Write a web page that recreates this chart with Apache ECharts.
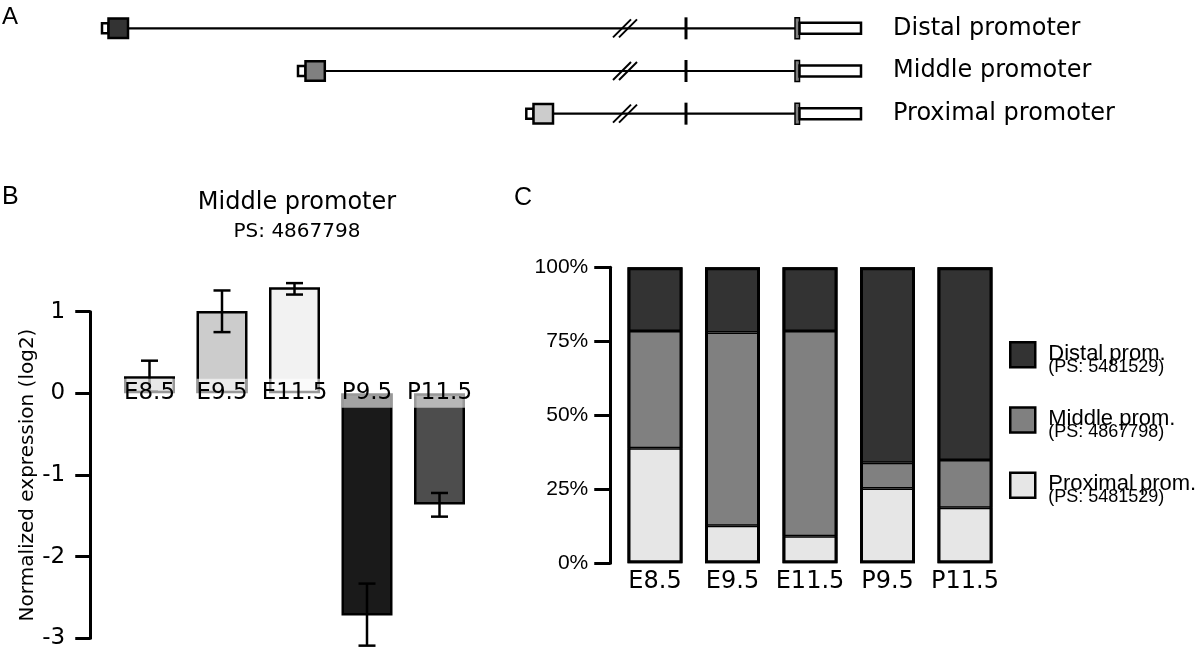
<!DOCTYPE html>
<html>
<head>
<meta charset="utf-8">
<script src="https://cdn.jsdelivr.net/npm/echarts@6/dist/echarts.min.js"></script>
<style>html,body{margin:0;padding:0;background:#fff}#c{width:1200px;height:654px}</style>
</head>
<body>
<div id="c"></div>
<script>
// ---- Panel A: gene structure (schematic positions) ----
const geneRows = ['Distal promoter', 'Middle promoter', 'Proximal promoter'];
const exon1Start = [102, 298, 526.3];
const exon1Split = [108.5, 305.5, 533.5];
const exon1End = [128, 324.8, 553];
const exon1Colors = ['#333333', '#808080', '#cccccc'];
const breakPos = [625, 625, 625];
const exon2Pos = [686, 686, 686];
const exon3Start = [795, 795, 795];
const exon3Split = [799.5, 799.5, 799.5];
const utrEnd = [861, 861, 861];

// ---- Panel B: Middle promoter expression ----
const stagesB = ['E8.5', 'E9.5', 'E11.5', 'P9.5', 'P11.5'];
const exprValues = [0.21, 1.01, 1.30, -2.72, -1.36];
const exprLow = [0.02, 0.75, 1.21, -3.09, -1.51];
const exprHigh = [0.40, 1.26, 1.35, -2.33, -1.22];
const exprColors = ['#c4c4c4', '#cccccc', '#f2f2f2', '#1a1a1a', '#4d4d4d'];

// ---- Panel C: promoter usage (%) ----
const stagesC = ['E8.5', 'E9.5', 'E11.5', 'P9.5', 'P11.5'];
const proximalPct = [38.9, 12.7, 9.1, 25.3, 18.8];
const middlePct = [39.6, 65.3, 69.4, 8.7, 16.1];
const distalPct = [21.5, 22.0, 21.5, 66.0, 65.1];
const totalPct = [100, 100, 100, 100, 100];
const seriesNamesC = ['Distal prom.', 'Middle prom.', 'Proximal prom.'];
const seriesPS = ['5481529', '4867798', '5481529'];
const seriesColorsC = ['#333333', '#808080', '#e6e6e6'];

const WIDE = 'DejaVu Sans';
const ARIAL = 'Liberation Sans';

const chart = echarts.init(document.getElementById('c'), null, {renderer: 'canvas'});

const geneData = geneRows.map((r, i) => [i, exon1Start[i], exon1Split[i], exon1End[i], breakPos[i], exon2Pos[i], exon3Start[i], exon3Split[i], utrEnd[i]]);

function renderGene(params, api) {
  const row = api.value(0);
  const X = v => api.coord([v, row])[0];
  const y = api.coord([0, row])[1];
  const color = exon1Colors[params.dataIndex];
  const s = X(api.value(1)), sp = X(api.value(2)), e = X(api.value(3));
  const b = X(api.value(4)), t = X(api.value(5));
  const x3s = X(api.value(6)), x3e = X(api.value(7)), u = X(api.value(8));
  return {
    type: 'group',
    children: [
      {type: 'line', shape: {x1: e, y1: y, x2: x3s, y2: y}, style: {stroke: '#000', lineWidth: 2.2}},
      {type: 'line', shape: {x1: b - 12, y1: y + 9, x2: b + 6, y2: y - 9}, style: {stroke: '#000', lineWidth: 2}},
      {type: 'line', shape: {x1: b - 6, y1: y + 9, x2: b + 12, y2: y - 9}, style: {stroke: '#000', lineWidth: 2}},
      {type: 'rect', shape: {x: t - 1.5, y: y - 11, width: 3, height: 22}, style: {fill: '#000'}},
      {type: 'rect', shape: {x: x3s, y: y - 10.5, width: x3e - x3s, height: 21}, style: {fill: '#808080', stroke: '#000', lineWidth: 1.5}},
      {type: 'rect', shape: {x: x3e, y: y - 5.5, width: u - x3e, height: 11}, style: {fill: '#fff', stroke: '#000', lineWidth: 2.5}},
      {type: 'rect', shape: {x: s, y: y - 5, width: sp - s, height: 10}, style: {fill: '#fff', stroke: '#000', lineWidth: 2.5}},
      {type: 'rect', shape: {x: sp, y: y - 9.75, width: e - sp, height: 19.5}, style: {fill: color, stroke: '#000', lineWidth: 2.5}}
    ]
  };
}

const errData = exprLow.map((l, i) => [i, l, exprHigh[i]]);
function renderErr(params, api) {
  const i = api.value(0);
  const x = api.coord([i, 0])[0];
  const yl = api.coord([i, api.value(1)])[1];
  const yh = api.coord([i, api.value(2)])[1];
  const st = {stroke: '#000', lineWidth: 2.5};
  return {
    type: 'group',
    children: [
      {type: 'line', shape: {x1: x, y1: yl, x2: x, y2: yh}, style: st},
      {type: 'line', shape: {x1: x - 8.5, y1: yl, x2: x + 8.5, y2: yl}, style: st},
      {type: 'line', shape: {x1: x - 8.5, y1: yh, x2: x + 8.5, y2: yh}, style: st}
    ]
  };
}

const pctArrays = [distalPct, middlePct, proximalPct];
const stackOrder = [2, 1, 0]; // proximal bottom, then middle, distal top

// B grid: y from -3 (bottom) to 1 (top); x-axis labels sit on the zero line
const gridB = {left: 113.25, width: 362.5, top: 311.7, height: 326.6};
const yMinB = -3, yMaxB = 1;
const zeroOffsetB = -gridB.height * (0 - yMinB) / (yMaxB - yMinB);

const option = {
  animation: false,
  backgroundColor: '#ffffff',
  textStyle: {fontFamily: WIDE, color: '#000'},
  grid: [
    {left: 0, width: 880, top: 7, height: 128, outerBoundsMode: 'none'},
    Object.assign({outerBoundsMode: 'none'}, gridB),
    {left: 616.25, width: 387.5, top: 267.3, height: 296, outerBoundsMode: 'none'}
  ],
  xAxis: [
    {gridIndex: 0, type: 'value', min: 0, max: 880, show: false},
    {gridIndex: 1, type: 'category', data: stagesB, z: 10, position: 'bottom', offset: zeroOffsetB,
      axisLine: {show: false, onZero: false}, axisTick: {show: false},
      axisLabel: {margin: 0, verticalAlign: 'middle', align: 'center', fontFamily: WIDE, fontSize: 23, color: '#000',
        backgroundColor: 'rgba(255,255,255,0.6)', width: 51, height: 29, lineHeight: 29, interval: 0}},
    {gridIndex: 2, type: 'category', data: stagesC,
      axisLine: {show: false}, axisTick: {show: false},
      axisLabel: {margin: 18, verticalAlign: 'middle', fontFamily: WIDE, fontSize: 24, color: '#000', interval: 0}}
  ],
  yAxis: [
    {gridIndex: 0, type: 'category', data: geneRows, inverse: true, position: 'right',
      axisLine: {show: false}, axisTick: {show: false}, splitLine: {show: false},
      axisLabel: {margin: 13, align: 'left', fontFamily: WIDE, fontSize: 24, color: '#000'}},
    {gridIndex: 1, type: 'value', min: yMinB, max: yMaxB, interval: 1, offset: 23,
      name: 'Normalized expression (log2)', nameLocation: 'middle', nameGap: 52,
      nameTextStyle: {fontFamily: WIDE, fontSize: 20, color: '#000'},
      axisLine: {show: true, lineStyle: {color: '#000', width: 3}},
      axisTick: {show: true, length: 15, lineStyle: {color: '#000', width: 3}},
      splitLine: {show: false},
      axisLabel: {margin: 25, fontFamily: WIDE, fontSize: 23, color: '#000'}},
    {gridIndex: 2, type: 'value', min: 0, max: 100, interval: 25, offset: 6,
      axisLine: {show: true, lineStyle: {color: '#000', width: 3}},
      axisTick: {show: true, length: 16, lineStyle: {color: '#000', width: 3}},
      splitLine: {show: false},
      axisLabel: {margin: 22, fontFamily: ARIAL, fontSize: 21, color: '#000', formatter: '{value}%'}}
  ],
  legend: {
    data: seriesNamesC, orient: 'vertical', left: 1009, top: 341, padding: 0,
    itemWidth: 25, itemHeight: 25, itemGap: 30.5, icon: 'rect', selectedMode: false,
    itemStyle: {borderColor: '#000', borderWidth: 2.5},
    textStyle: {fontFamily: ARIAL, color: '#000', padding: [5, 0, 0, 8],
      rich: {a: {fontFamily: ARIAL, fontSize: 22, lineHeight: 19, color: '#000'},
             b: {fontFamily: ARIAL, fontSize: 18, lineHeight: 7, color: '#000'}}},
    formatter: function (name) {
      const i = seriesNamesC.indexOf(name);
      return '{a|' + name + '}\n{b|(PS: ' + seriesPS[i] + ')}';
    }
  },
  graphic: [
    {type: 'text', left: 2, top: 5, style: {text: 'A', font: '24px "Liberation Sans"', fill: '#000'}},
    {type: 'text', left: 2, top: 185, style: {text: 'B', font: '25px "Liberation Sans"', fill: '#000'}},
    {type: 'text', left: 514, top: 186, style: {text: 'C', font: '25px "Liberation Sans"', fill: '#000'}},
    {type: 'text', x: 297, y: 203, style: {text: 'Middle promoter', font: '24px "DejaVu Sans"', fill: '#000', textAlign: 'center', textVerticalAlign: 'middle'}},
    {type: 'text', x: 297, y: 232, style: {text: 'PS: 4867798', font: '20px "DejaVu Sans"', fill: '#000', textAlign: 'center', textVerticalAlign: 'middle'}}
  ],
  series: [
    {type: 'custom', name: 'gene', xAxisIndex: 0, yAxisIndex: 0, renderItem: renderGene, data: geneData, clip: false, silent: true},
    {type: 'bar', name: 'expr', xAxisIndex: 1, yAxisIndex: 1, barWidth: 51, clip: false,
      data: exprValues.map((v, i) => ({value: v, itemStyle: {color: exprColors[i]}})),
      itemStyle: {borderColor: '#000', borderWidth: 2.5}},
    {type: 'custom', name: 'err', xAxisIndex: 1, yAxisIndex: 1, renderItem: renderErr, data: errData, clip: false, z: 3,
      encode: {x: 0, y: [1, 2]}}
  ].concat(stackOrder.map(k => ({
    type: 'bar', name: seriesNamesC[k], xAxisIndex: 2, yAxisIndex: 2, stack: 'pct', barWidth: 55, barGap: '-100%',
    data: pctArrays[k],
    itemStyle: {color: seriesColorsC[k], borderColor: '#000', borderWidth: 1.5}
  }))).concat([{
    type: 'bar', name: 'outline', xAxisIndex: 2, yAxisIndex: 2, barWidth: 55, barGap: '-100%', z: 3, silent: true,
    data: totalPct,
    itemStyle: {color: 'rgba(0,0,0,0)', borderColor: '#000', borderWidth: 3}
  }])
};
chart.setOption(option);
</script>
</body>
</html>
